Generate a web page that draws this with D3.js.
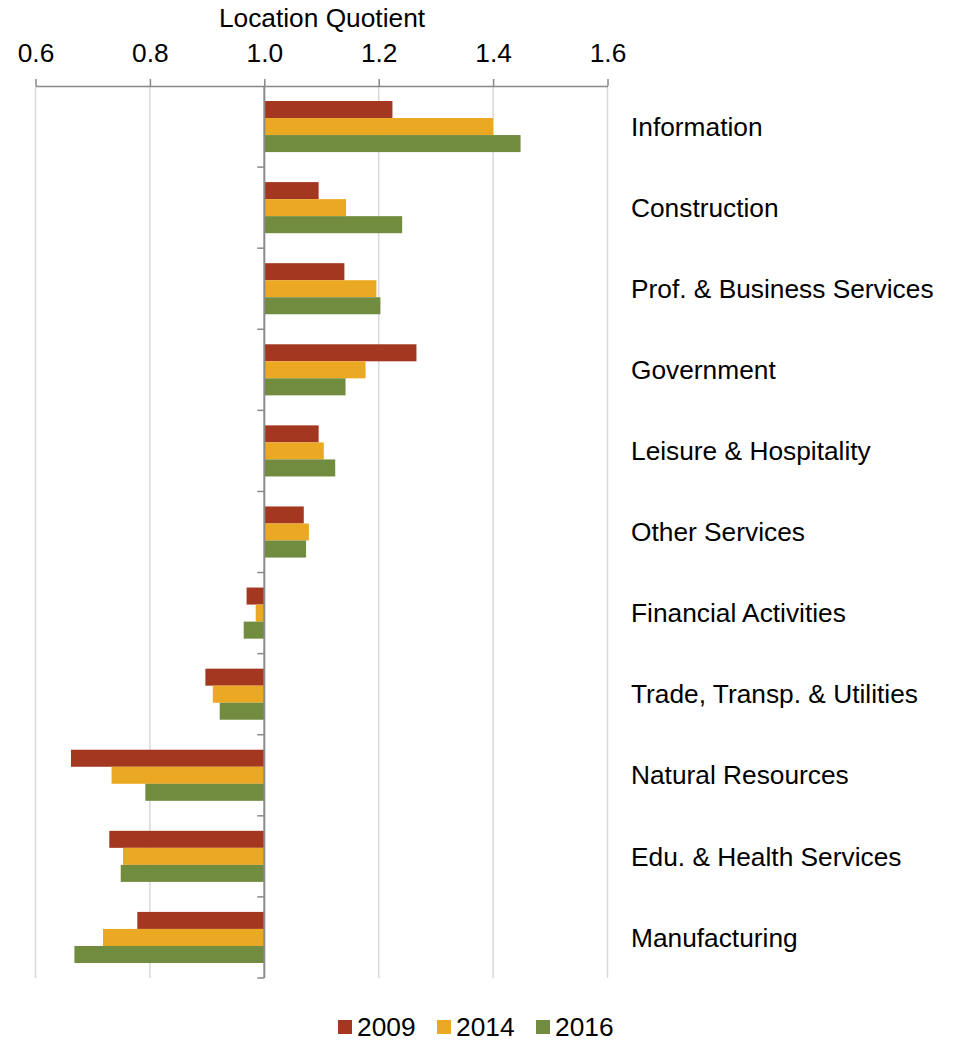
<!DOCTYPE html>
<html>
<head>
<meta charset="utf-8">
<script src="https://cdn.jsdelivr.net/npm/d3@7"></script>
<style>
  body { margin: 0; background: #fff; }
  svg text { font-family: "Liberation Sans", Arial, sans-serif; fill: #000; }
</style>
</head>
<body>
<div class="box"></div>
<script>
const categories = ['Information', 'Construction', 'Prof. & Business Services', 'Government',
  'Leisure & Hospitality', 'Other Services', 'Financial Activities', 'Trade, Transp. & Utilities',
  'Natural Resources', 'Edu. & Health Services', 'Manufacturing'];
const years = ['2009', '2014', '2016'];
const lq2009 = [1.224, 1.095, 1.140, 1.266, 1.095, 1.069, 0.969, 0.897, 0.662, 0.729, 0.778];
const lq2014 = [1.400, 1.143, 1.196, 1.177, 1.104, 1.078, 0.985, 0.910, 0.733, 0.753, 0.718];
const lq2016 = [1.448, 1.241, 1.203, 1.142, 1.124, 1.073, 0.964, 0.922, 0.792, 0.749, 0.668];
const xTicks = [0.6, 0.8, 1.0, 1.2, 1.4, 1.6];
const colors = ['#A3371F', '#EBA823', '#718B3F'];

const series = [lq2009, lq2014, lq2016];
let rows = [];
categories.forEach(function (c, i) {
  years.forEach(function (yr, j) {
    rows.push({ cat: c, year: yr, value: series[j][i], color: colors[j] });
  });
});

const width = 958, height = 1042;
const fontSize = 26.3;
const svg = d3.select('.box').append('svg')
  .attr('width', width)
  .attr('height', height);

let x = d3.scaleLinear().domain([0.6, 1.6]).range([35.5, 607.5]);
let y = d3.scaleBand().domain(categories).range([86, 978]);
let y1 = d3.scaleBand().domain(years).range([15, y.bandwidth() - 15]);

// gridlines
svg.append('g').selectAll('line')
  .data(xTicks.filter(function (d) { return d !== 1.0; }))
  .enter().append('line')
  .attr('x1', function (d) { return x(d); })
  .attr('x2', function (d) { return x(d); })
  .attr('y1', 86).attr('y2', 978)
  .attr('stroke', '#d9d9d9').attr('stroke-width', 1.5);

// bars
svg.append('g').selectAll('rect')
  .data(rows)
  .enter().append('rect')
  .attr('x', function (d) { return Math.min(x(d.value), x(1)); })
  .attr('width', function (d) { return Math.abs(x(d.value) - x(1)); })
  .attr('y', function (d) { return y(d.cat) + y1(d.year); })
  .attr('height', y1.bandwidth())
  .attr('fill', function (d) { return d.color; });

// top axis
let xAxis = svg.append('g')
  .attr('transform', 'translate(0,86)')
  .call(d3.axisTop(x).tickValues(xTicks).tickFormat(d3.format('.1f')).tickSize(7).tickPadding(17).tickSizeOuter(0));
xAxis.select('.domain').attr('stroke', '#898989').attr('stroke-width', 1.5);
xAxis.selectAll('.tick line').attr('stroke', '#898989').attr('stroke-width', 1.5);
xAxis.selectAll('.tick text').attr('font-size', fontSize).attr('fill', '#000')
  .attr('font-family', '"Liberation Sans", Arial, sans-serif');

svg.append('text')
  .attr('x', 322).attr('y', 27)
  .attr('text-anchor', 'middle')
  .attr('font-size', fontSize)
  .text('Location Quotient');

// category axis at 1.0
let yAxis = svg.append('g')
  .attr('transform', 'translate(' + x(1) + ',0)');
yAxis.append('line')
  .attr('y1', 86).attr('y2', 978)
  .attr('stroke', '#898989').attr('stroke-width', 2);
yAxis.selectAll('.cat-tick')
  .data(categories.map(function (c) { return y(c) + y.bandwidth(); }))
  .enter().append('line')
  .attr('x1', -7).attr('x2', 0)
  .attr('y1', function (d) { return d; })
  .attr('y2', function (d) { return d; })
  .attr('stroke', '#898989').attr('stroke-width', 1.5);

svg.append('g').selectAll('text')
  .data(categories)
  .enter().append('text')
  .attr('x', 631)
  .attr('y', function (d) { return y(d) + y.bandwidth() / 2; })
  .attr('dy', '0.35em')
  .attr('font-size', fontSize)
  .text(function (d) { return d; });

// legend
let legend = svg.append('g').attr('transform', 'translate(0,1020)');
const legendX = [338, 437, 536];
years.forEach(function (yr, j) {
  legend.append('rect')
    .attr('x', legendX[j]).attr('y', 0)
    .attr('width', 14).attr('height', 14)
    .attr('fill', colors[j]);
  legend.append('text')
    .attr('x', legendX[j] + 19).attr('y', 16)
    .attr('font-size', fontSize)
    .text(yr);
});
</script>
</body>
</html>
